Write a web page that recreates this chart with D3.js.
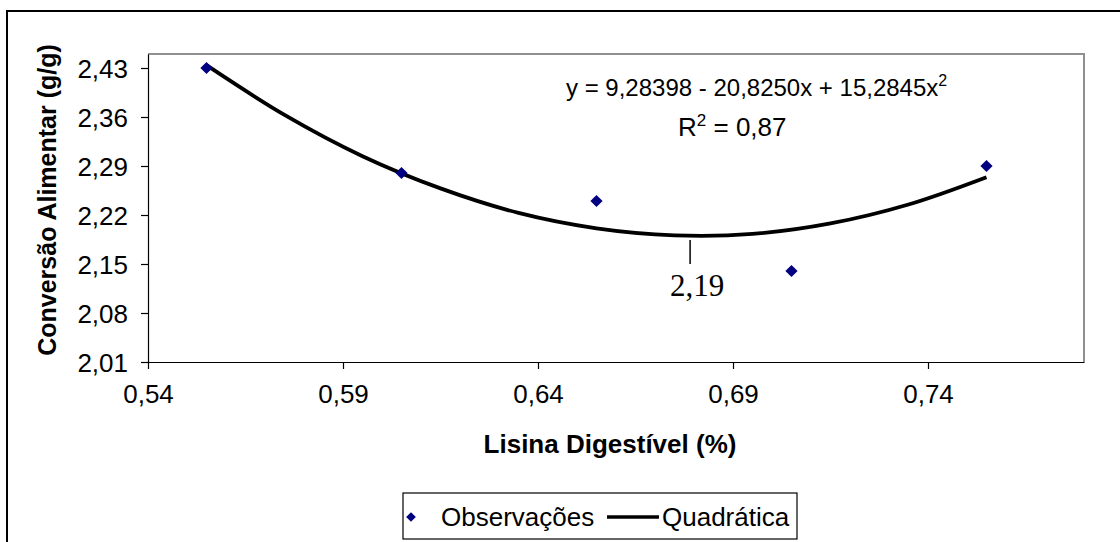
<!DOCTYPE html>
<html>
<head>
<meta charset="utf-8">
<script src="https://cdn.jsdelivr.net/npm/d3@7"></script>
<style>
  body { margin: 0; background: #fff; }
  svg { display: block; }
  .axis text { font-family: Arial, "Liberation Sans", sans-serif; font-size: 26px; fill: #000; }
  .axis path, .axis line { stroke: #000; stroke-width: 1.2; }
  .title { font-family: Arial, "Liberation Sans", sans-serif; font-size: 25px; font-weight: bold; }
  .note { font-family: Arial, "Liberation Sans", sans-serif; font-size: 25px; }
</style>
</head>
<body>
<script>
// observed points
var obsX = [0.555, 0.605, 0.655, 0.705, 0.755];
var obsY = [2.43, 2.28, 2.24, 2.14, 2.29];

// fitted quadratic
var fitX = [0.555, 0.575, 0.595, 0.615, 0.635, 0.655, 0.675, 0.695, 0.715, 0.735, 0.755];
var fitY = [2.434, 2.363, 2.304, 2.258, 2.223, 2.201, 2.191, 2.193, 2.208, 2.235, 2.274];

var xTicks = [0.54, 0.59, 0.64, 0.69, 0.74];
var yTicks = [2.01, 2.08, 2.15, 2.22, 2.29, 2.36, 2.43];

var minX = 0.679, minY = 2.19;   // marked minimum

var W = 1120, H = 542;
var margin = {top: 54, right: 36, bottom: 180, left: 148};
var width = W - margin.left - margin.right,
    height = H - margin.top - margin.bottom;

var ptBR = d3.formatLocale({decimal: ",", thousands: ".", grouping: [3], currency: ["", ""]});
var fmt = ptBR.format(".2f");

var svg = d3.select("body").append("svg")
    .attr("width", W)
    .attr("height", H);

// outer chart frame (runs off the right and bottom edges)
svg.append("rect")
    .attr("x", 7).attr("y", 11)
    .attr("width", 1200).attr("height", 600)
    .attr("fill", "none")
    .attr("stroke", "#000")
    .attr("stroke-width", 2);

var g = svg.append("g")
    .attr("transform", "translate(" + margin.left + "," + margin.top + ")");

var x = d3.scaleLinear().domain([0.54, 0.78]).range([0, width]);
var y = d3.scaleLinear().domain([2.01, 2.45]).range([height, 0]);

// plot area border (grey top/right)
g.append("path")
    .attr("d", "M0,0H" + width + "V" + height)
    .attr("fill", "none")
    .attr("stroke", "#909090")
    .attr("stroke-width", 2);

g.append("g")
    .attr("class", "axis")
    .attr("transform", "translate(0," + height + ")")
    .call(d3.axisBottom(x).tickValues(xTicks).tickFormat(fmt).tickSize(7).tickSizeOuter(0).tickPadding(16));

g.append("g")
    .attr("class", "axis")
    .call(d3.axisLeft(y).tickValues(yTicks).tickFormat(fmt).tickSize(7).tickSizeOuter(0).tickPadding(13));

g.selectAll(".axis .tick text").attr("dy", "0.36em");
g.selectAll(".axis:first-of-type .tick text").attr("dy", "0.71em");

// fitted curve
var line = d3.line()
    .x(function(d, i) { return x(fitX[i]); })
    .y(function(d) { return y(d); })
    .curve(d3.curveCatmullRom);

g.append("path")
    .datum(fitY)
    .attr("d", line)
    .attr("fill", "none")
    .attr("stroke", "#000")
    .attr("stroke-width", 3.8)
    .attr("stroke-linejoin", "round");

// observations
var diamond = d3.symbol().type(d3.symbolDiamond2).size(95);
g.selectAll(".dot")
    .data(obsY)
    .enter().append("path")
    .attr("class", "dot")
    .attr("d", diamond)
    .attr("transform", function(d, i) { return "translate(" + x(obsX[i]) + "," + y(d) + ")"; })
    .attr("fill", "#000080");

// minimum marker
g.append("line")
    .attr("x1", x(minX)).attr("x2", x(minX))
    .attr("y1", y(minY) + 4).attr("y2", y(minY) + 28)
    .attr("stroke", "#000").attr("stroke-width", 1.5);

g.append("text")
    .attr("x", x(minX) + 7)
    .attr("y", y(minY) + 60)
    .attr("text-anchor", "middle")
    .style("font-family", "'Times New Roman', 'Liberation Serif', serif")
    .style("font-size", "31px")
    .text(fmt(minY));

// equation
var eq = g.append("text")
    .attr("class", "note")
    .style("font-size", "24px")
    .attr("x", 418)
    .attr("y", 42);
eq.append("tspan").text("y = 9,28398 - 20,8250x + 15,2845x");
eq.append("tspan").attr("dy", -10).style("font-size", "16px").text("2");

var r2 = g.append("text")
    .attr("class", "note")
    .style("font-size", "26px")
    .attr("x", 530)
    .attr("y", 82);
r2.append("tspan").text("R");
r2.append("tspan").attr("dy", -10).style("font-size", "17px").text("2");
r2.append("tspan").attr("dy", 10).text(" = 0,87");

// axis titles
svg.append("text")
    .attr("class", "title")
    .attr("transform", "translate(56," + (margin.top + height / 2 - 8) + ") rotate(-90)")
    .attr("text-anchor", "middle")
    .text("Conversão Alimentar (g/g)");

svg.append("text")
    .attr("class", "title")
    .style("font-size", "26px")
    .attr("x", margin.left + width / 2 - 6)
    .attr("y", 453)
    .attr("text-anchor", "middle")
    .text("Lisina Digestível (%)");

// legend
var lg = svg.append("g").attr("transform", "translate(403,493)");
lg.append("rect")
    .attr("width", 394).attr("height", 46)
    .attr("fill", "#fff")
    .attr("stroke", "#000")
    .attr("stroke-width", 1.2);
lg.append("path")
    .attr("d", d3.symbol().type(d3.symbolDiamond2).size(60))
    .attr("transform", "translate(8,24)")
    .attr("fill", "#000080");
lg.append("text")
    .attr("class", "note")
    .style("font-size", "26px")
    .attr("x", 38).attr("y", 33)
    .text("Observações");
lg.append("line")
    .attr("x1", 204).attr("x2", 256)
    .attr("y1", 24).attr("y2", 24)
    .attr("stroke", "#000").attr("stroke-width", 3.5);
lg.append("text")
    .attr("class", "note")
    .style("font-size", "26px")
    .attr("x", 259).attr("y", 33)
    .text("Quadrática");
</script>
</body>
</html>
